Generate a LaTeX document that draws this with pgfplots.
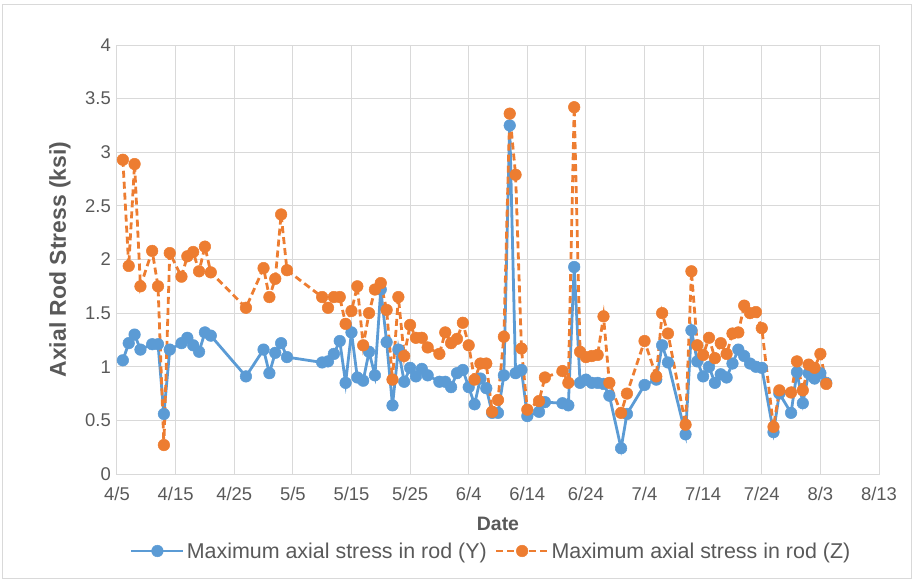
\documentclass[border=0pt]{standalone}
\usepackage{pgfplots}
\pgfplotsset{compat=1.18}
\usepackage{pgfplotstable}
\usepackage{fontspec}
\setmainfont{Liberation Sans}

\definecolor{serY}{HTML}{5B9BD5}
\definecolor{serZ}{HTML}{ED7D31}
\definecolor{txt}{HTML}{595959}
\definecolor{gridc}{HTML}{D9D9D9}

% day = days since 4/5, stress in ksi
\pgfplotstableread{
day stress
1 1.06
2 1.22
3 1.30
4 1.16
6 1.21
7 1.21
8 0.56
9 1.16
11 1.22
12 1.27
13 1.20
14 1.14
15 1.32
16 1.29
22 0.91
25 1.16
26 0.94
27 1.13
28 1.22
29 1.09
35 1.04
36 1.05
37 1.12
38 1.24
39 0.85
40 1.32
41 0.90
42 0.87
43 1.14
44 0.92
45 1.72
46 1.23
47 0.64
48 1.16
49 0.86
50 0.99
51 0.91
52 0.98
53 0.92
55 0.86
56 0.86
57 0.81
58 0.94
59 0.97
60 0.81
61 0.65
62 0.89
63 0.80
64 0.57
65 0.57
66 0.92
67 3.25
68 0.94
69 0.97
70 0.54
72 0.58
73 0.67
76 0.66
77 0.64
78 1.93
79 0.85
80 0.88
81 0.85
82 0.85
83 0.84
84 0.73
86 0.24
87 0.56
90 0.83
92 0.88
93 1.20
94 1.04
97 0.37
98 1.34
99 1.05
100 0.91
101 1.00
102 0.85
103 0.93
104 0.90
105 1.03
106 1.16
107 1.10
108 1.03
109 1.00
110 0.99
112 0.39
113 0.75
115 0.57
116 0.95
117 0.66
118 0.94
119 0.89
120 0.94
121 0.85
}\rodY

\pgfplotstableread{
day stress
1 2.93
2 1.94
3 2.89
4 1.75
6 2.08
7 1.75
8 0.27
9 2.06
11 1.84
12 2.03
13 2.07
14 1.89
15 2.12
16 1.88
22 1.55
25 1.92
26 1.65
27 1.82
28 2.42
29 1.90
35 1.65
36 1.55
37 1.65
38 1.65
39 1.40
40 1.52
41 1.75
42 1.20
43 1.50
44 1.72
45 1.78
46 1.53
47 0.88
48 1.65
49 1.10
50 1.39
51 1.27
52 1.27
53 1.18
55 1.12
56 1.32
57 1.22
58 1.26
59 1.41
60 1.20
61 0.88
62 1.03
63 1.03
64 0.58
65 0.69
66 1.28
67 3.36
68 2.79
69 1.17
70 0.60
72 0.68
73 0.90
76 0.96
77 0.85
78 3.42
79 1.14
80 1.09
81 1.10
82 1.11
83 1.47
84 0.85
86 0.57
87 0.75
90 1.24
92 0.91
93 1.50
94 1.31
97 0.46
98 1.89
99 1.20
100 1.11
101 1.27
102 1.08
103 1.22
104 1.12
105 1.31
106 1.32
107 1.57
108 1.50
109 1.51
110 1.36
112 0.44
113 0.78
115 0.76
116 1.05
117 0.78
118 1.02
119 0.99
120 1.12
121 0.84
}\rodZ

\begin{document}
\begin{tikzpicture}
\path[use as bounding box] (-117bp,-108bp) rectangle (798bp,474bp);
\draw[gridc, line width=1bp] (-114bp,-104bp) rectangle (794bp,469bp);
\begin{axis}[
  scale only axis, width=762bp, height=429bp,
  at={(0,0)}, anchor=south west,
  xmin=0, xmax=130, ymin=0, ymax=4,
  xtick={0,10,...,130},
  xticklabels={4/5,4/15,4/25,5/5,5/15,5/25,6/4,6/14,6/24,7/4,7/14,7/24,8/3,8/13},
  ytick={0,0.5,...,4},
  yticklabels={0,0.5,1,1.5,2,2.5,3,3.5,4},
  grid=major,
  major grid style={gridc, line width=1bp},
  axis line style={gridc, line width=1bp},
  tick style={draw=none},
  ticklabel style={font=\fontsize{18.5}{18.5}\selectfont, text=txt, inner sep=0pt},
  xticklabel style={anchor=base, yshift=-26bp},
  yticklabel style={anchor=east, xshift=-6bp},
  xlabel={Date},
  ylabel={Axial Rod Stress (ksi)},
  xlabel style={font=\fontsize{19.5}{19.5}\selectfont\bfseries, text=txt,
    at={(axis description cs:0.5,-0.1166)}, anchor=center},
  ylabel style={font=\fontsize{23}{23}\selectfont\bfseries, text=txt,
    at={(axis description cs:-0.0748,0.5)}, anchor=center},
  legend columns=2,
  legend style={at={(axis description cs:0.491,-0.1795)}, anchor=center,
    draw=none, fill=none, font=\fontsize{21.5}{21.5}\selectfont, text=txt,
    /tikz/every even column/.append style={column sep=6bp}},
  legend image code/.code={%
    \draw[mark repeat=2, mark phase=2, #1]
      plot coordinates {(0bp,0bp) (26bp,0bp) (52bp,0bp)};},
]
\addplot[serY, line width=2.8bp, mark=*, mark size=5.8bp,
  mark options={solid, line width=0.5bp}] table[x=day, y=stress] {\rodY};
\addlegendentry{Maximum axial stress in rod (Y)}
\addplot[serZ, line width=2.8bp, dash pattern=on 7bp off 4bp, mark=*, mark size=5.8bp,
  mark options={solid, line width=0.5bp}] table[x=day, y=stress] {\rodZ};
\addlegendentry{Maximum axial stress in rod (Z)}
\end{axis}
\end{tikzpicture}
\end{document}
